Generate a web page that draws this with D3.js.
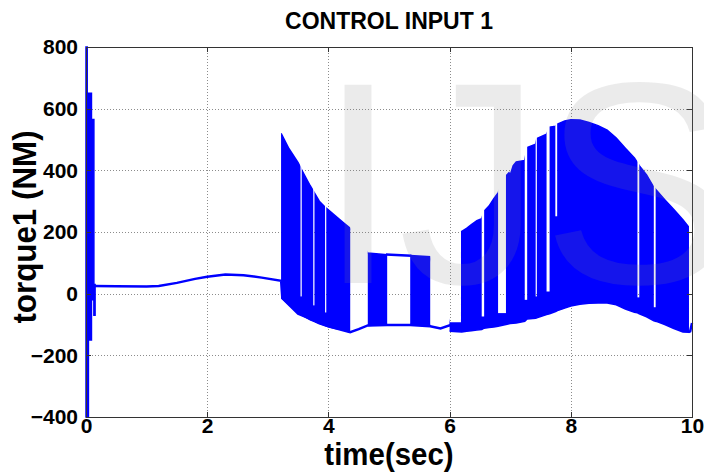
<!DOCTYPE html>
<html>
<head>
<meta charset=utf-8>
<style>
body {margin:0; background:#fff;}
svg {display:block; font-family:'Liberation Sans', Arial, sans-serif;}
.grid line {stroke:#8c8c8c; stroke-dasharray:1,2; shape-rendering:crispEdges;}
.axis text {font-size:21px; font-weight:bold; fill:#000;}
.axis path, .axis line {stroke:#333; shape-rendering:crispEdges;}
</style>
</head>
<body>
<svg id=chart width=704 height=472></svg>

<script src='https://cdn.jsdelivr.net/npm/d3@7'></script>
<script>
//axis ticks
var xTicks = [0, 2, 4, 6, 8, 10];
var yTicks = [-400, -200, 0, 200, 400, 600, 800];

//start-up transient (0 - 0.15 s)
var spikeT  = [0, 0.02, 0.02, 0.04, 0.04, 0.09, 0.09, 0.13, 0.13, 0.15];
var spikeHi = [800, 800, 400, 400, 650, 650, 565, 565, 30, 30];
var spikeLo = [-400, -400, -400, -400, -150, -150, -20, -20, -70, -70];

//smooth part of the torque (runs under the first bursts)
var lineT = [0.14, 0.5, 1.0, 1.2, 1.5, 1.8, 2.0, 2.3, 2.6, 2.9, 3.22, 3.24, 3.5, 4.0, 4.36,
             4.5, 4.65, 4.97, 5.35, 5.68, 5.85, 6.0, 6.2];
var lineV = [25, 24, 23, 25, 35, 48, 55, 62, 60, 52, 42, -15, -65, -106, -125,
             -115, -103, -102, -102, -106, -113, -103, -118];

//last bit after the chattering ends
var tailT = [9.94, 9.97, 10];
var tailV = [-125, -122, -95];

//flat top between the two short bursts near t = 5 s
var bridgeT = [4.95, 5.37];
var bridgeV = [127, 123];

//chattering envelope
var bandT  = [3.22, 3.35, 3.5, 3.55, 3.7, 3.76, 3.85, 3.96, 4.1, 4.25, 4.36,
              4.65, 4.97, 5.35, 5.68,
              6.0, 6.2, 6.2, 6.28, 6.36, 6.45, 6.53, 6.57, 6.65, 6.73, 6.8, 6.93, 6.98, 7.0,
              7.05, 7.1, 7.24, 7.28, 7.42, 7.44, 7.6, 7.65, 7.75, 7.78, 7.9, 8.0, 8.15, 8.3,
              8.45, 8.6, 8.75, 8.9, 9.05, 9.1, 9.13, 9.25, 9.37, 9.41, 9.55, 9.7, 9.85, 9.95];
var bandHi = [520, 470, 425, 405, 350, 330, 300, 278, 255, 230, 212,
              132, 126, 124, 120,
              -95, -95, 202, 212, 224, 237, 243, 268, 284, 308, 327, 382, 392, 385,
              415, 427, 432, 474, 485, 503, 517, 540, 543, 550, 560, 564, 563, 555,
              545, 530, 505, 472, 440, 425, 415, 385, 345, 336, 305, 273, 240, 215];
var bandLo = [-13, -35, -62, -68, -85, -90, -98, -105, -112, -118, -125,
              -103, -100, -100, -102,
              -122, -124, -124, -122, -120, -118, -116, -112, -110, -108, -106, -100, -98, -97,
              -96, -95, -90, -82, -80, -78, -68, -65, -58, -55, -47, -40, -34, -31,
              -30, -30, -36, -50, -60, -62, -65, -75, -88, -90, -100, -113, -124, -125];

//time spans where the band is filled
var blockFrom = [3.22, 4.65, 5.35, 6.0];
var blockTo   = [4.36, 4.97, 5.68, 9.95];

//thin white gaps in the band: start, end, lowest value reached
var gapFrom = [3.54, 3.75, 3.945, 6.53, 6.80, 7.24, 7.42, 7.60, 7.745, 9.10, 9.37];
var gapTo   = [3.56, 3.77, 3.965, 6.57, 6.93, 7.28, 7.44, 7.65, 7.775, 9.13, 9.40];
var gapLo   = [-9, -38, -61, -74, -63, -20, -9, 7, 251, -12, -44];

var margin = {top: 47, right: 12, bottom: 55, left: 86};
var svg = d3.select('#chart');
var width = +svg.attr('width') - margin.left - margin.right;
var height = +svg.attr('height') - margin.top - margin.bottom;
var g = svg.append('g').attr('transform', 'translate(' + margin.left + ',' + margin.top + ')');

var x = d3.scaleLinear().domain([0, 10]).range([0, width]);
var y = d3.scaleLinear().domain([-400, 800]).range([height, 0]);

var blue = '#0000ff';
var defs = svg.append('defs');

//clip: union of the filled spans
var clip = defs.append('clipPath').attr('id', 'blocks');
blockFrom.forEach(function(t0, i){
  clip.append('rect')
      .attr('x', x(t0)).attr('y', -2)
      .attr('width', x(blockTo[i]) - x(t0)).attr('height', height + 4);
});

//mask: punch the gaps out
var mask = defs.append('mask').attr('id', 'gaps')
    .attr('maskUnits', 'userSpaceOnUse')
    .attr('x', -5).attr('y', -5).attr('width', width + 10).attr('height', height + 10);
mask.append('rect').attr('x', -5).attr('y', -5)
    .attr('width', width + 10).attr('height', height + 10).attr('fill', 'white');
gapFrom.forEach(function(t0, i){
  mask.append('rect')
      .attr('x', x(t0)).attr('y', -5)
      .attr('width', Math.max(1.2, x(gapTo[i]) - x(t0)))
      .attr('height', y(gapLo[i]) + 5)
      .attr('fill', 'black');
});

//gridlines
var grid = g.append('g').attr('class', 'grid');
grid.selectAll('.gx').data(xTicks.slice(1, -1)).enter().append('line')
    .attr('x1', function(d){ return Math.round(x(d)) + 0.5; })
    .attr('x2', function(d){ return Math.round(x(d)) + 0.5; })
    .attr('y1', 0).attr('y2', height);
grid.selectAll('.gy').data(yTicks.slice(1, -1)).enter().append('line')
    .attr('y1', function(d){ return Math.round(y(d)) + 0.5; })
    .attr('y2', function(d){ return Math.round(y(d)) + 0.5; })
    .attr('x1', 0).attr('x2', width);

//chattering band
var band = bandT.map(function(t, i){ return {t: t, hi: bandHi[i], lo: bandLo[i]}; });
var area = d3.area()
    .x(function(d){ return x(d.t); })
    .y0(function(d){ return y(d.lo); })
    .y1(function(d){ return y(d.hi); });

g.append('g').attr('mask', 'url(#gaps)')
  .append('path')
    .datum(band)
    .attr('clip-path', 'url(#blocks)')
    .attr('d', area)
    .attr('fill', blue)
    .attr('stroke', blue)
    .attr('stroke-width', 1.5);

//start-up spike
var spike = spikeT.map(function(t, i){ return {t: t, hi: spikeHi[i], lo: spikeLo[i]}; });
g.append('path')
    .datum(spike)
    .attr('d', area)
    .attr('fill', blue)
    .attr('stroke', blue)
    .attr('stroke-width', 1.5);

//smooth line pieces
var line = d3.line()
    .x(function(d){ return x(d[0]); })
    .y(function(d){ return y(d[1]); });
[d3.zip(lineT, lineV), d3.zip(tailT, tailV), d3.zip(bridgeT, bridgeV)].forEach(function(pts){
  g.append('path')
      .datum(pts)
      .attr('d', line)
      .attr('fill', 'none')
      .attr('stroke', blue)
      .attr('stroke-width', 2.5);
});

//axes (ticks inside, box on)
g.append('g').attr('class', 'axis')
    .attr('transform', 'translate(0,' + height + ')')
    .call(d3.axisBottom(x).tickValues(xTicks).tickSize(-5).tickSizeOuter(0).tickPadding(1).tickFormat(d3.format('d')));
g.append('g').attr('class', 'axis')
    .call(d3.axisLeft(y).tickValues(yTicks).tickSize(-5).tickSizeOuter(0).tickPadding(8).tickFormat(d3.format('d')));
g.append('g').attr('class', 'axis')
    .call(d3.axisTop(x).tickValues(xTicks).tickSize(-5).tickSizeOuter(0).tickFormat(''));
g.append('g').attr('class', 'axis')
    .attr('transform', 'translate(' + width + ',0)')
    .call(d3.axisRight(y).tickValues(yTicks).tickSize(-5).tickSizeOuter(0).tickFormat(''));

//titles (the labels are a slightly narrow, tall face: squeeze along the baseline)
svg.append('text')
    .attr('text-anchor', 'middle')
    .attr('x', margin.left + width / 2).attr('y', 29)
    .style('font-size', '23px').style('font-weight', 'bold')
    .text('CONTROL INPUT 1');

var sq = 0.95;
svg.append('text')
    .attr('text-anchor', 'middle')
    .attr('transform', 'scale(' + sq + ',1)')
    .attr('x', (margin.left + width / 2) / sq).attr('y', 465)
    .style('font-size', '31px').style('font-weight', 'bold')
    .text('time(sec)');

svg.append('text')
    .attr('text-anchor', 'middle')
    .attr('transform', 'rotate(-90) scale(' + sq + ',1)')
    .attr('x', -227 / sq).attr('y', 36)
    .style('font-size', '33px').style('font-weight', 'bold')
    .text('torque1 (NM)');

//watermark
svg.append('text')
    .attr('x', 318).attr('y', 283)
    .style('font-size', '288px')
    .style('fill', '#808080').style('fill-opacity', 0.16)
    .text('IJS');
</script>
</body>
</html>
